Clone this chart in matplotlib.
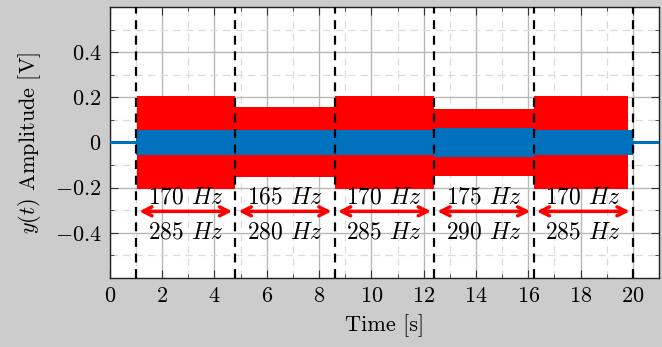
import matplotlib
matplotlib.use("Agg")
import matplotlib.pyplot as plt
from matplotlib.ticker import MultipleLocator
import numpy as np

plt.rcParams['font.family'] = 'serif'
plt.rcParams['font.serif'] = ['cmr10']
plt.rcParams['mathtext.fontset'] = 'cm'
plt.rcParams['axes.formatter.use_mathtext'] = True

# segment boundaries [s]
boundaries = [1.0, 4.8, 8.6, 12.4, 16.2, 20.0]
freq_low = [170, 165, 170, 175, 170]
freq_high = [285, 280, 285, 290, 285]
# envelope amplitudes of red (input) and blue (output) signals per segment
red_amp = [0.205, 0.155, 0.205, 0.148, 0.205]
blue_amp = [0.055, 0.057, 0.056, 0.064, 0.056]
blue_idle_amp = 0.007
red_start, red_end = 1.05, 19.8

fig = plt.figure(figsize=(6.62, 3.47), dpi=100)
fig.patch.set_facecolor('#cccccc')
ax = fig.add_axes([0.166, 0.199, 0.8295, 0.781])
ax.set_facecolor('white')

# red signal envelope
for i in range(5):
    x0 = max(boundaries[i], red_start)
    x1 = min(boundaries[i + 1], red_end)
    ax.fill_between([x0, x1], [-red_amp[i]] * 2, [red_amp[i]] * 2,
                    color='#ff0000', lw=0, zorder=2)
# blue signal envelope
ax.fill_between([0, boundaries[0]], [-blue_idle_amp] * 2, [blue_idle_amp] * 2,
                color='#0072BD', lw=0, zorder=3)
ax.fill_between([boundaries[-1], 21], [-blue_idle_amp] * 2, [blue_idle_amp] * 2,
                color='#0072BD', lw=0, zorder=3)
for i in range(5):
    ax.fill_between([boundaries[i], boundaries[i + 1]], [-blue_amp[i]] * 2,
                    [blue_amp[i]] * 2, color='#0072BD', lw=0, zorder=3)

# boundaries
for b in boundaries:
    ax.axvline(b, color='black', ls=(0, (4, 3)), lw=1.6, zorder=4)

# annotations
for i in range(5):
    c = 0.5 * (boundaries[i] + boundaries[i + 1])
    ax.text(c, -0.245, f'{freq_low[i]} $Hz$', ha='center', va='center',
            fontsize=17, zorder=5)
    ax.text(c, -0.40, f'{freq_high[i]} $Hz$', ha='center', va='center',
            fontsize=17, zorder=5)
    ax.annotate('', xy=(boundaries[i] + 0.12, -0.305),
                xytext=(boundaries[i + 1] - 0.12, -0.305),
                arrowprops=dict(arrowstyle='<->', color='#ff0000', lw=2.5,
                                mutation_scale=16, shrinkA=0, shrinkB=0),
                zorder=5)

ax.set_xlim(0, 21)
ax.set_ylim(-0.6, 0.6)
ax.xaxis.set_major_locator(MultipleLocator(2))
ax.xaxis.set_minor_locator(MultipleLocator(1))
ax.set_yticks([-0.4, -0.2, 0, 0.2, 0.4])
ax.set_yticklabels(['$-0.4$', '$-0.2$', '$0$', '$0.2$', '$0.4$'])
ax.yaxis.set_minor_locator(MultipleLocator(0.1))
ax.set_xticklabels([f'${int(v)}$' for v in ax.get_xticks()])
ax.grid(which='major', color='#b8b8b8', lw=1.0, zorder=1)
ax.grid(which='minor', color='#dcdcdc', lw=0.9, ls=(0, (6, 4)), zorder=1)
ax.set_axisbelow(True)
ax.tick_params(which='both', direction='in', top=True, right=True,
               labelsize=16, colors='#333333', labelcolor='black')
ax.tick_params(which='major', length=6, pad=6)
ax.tick_params(which='minor', length=3)
for s in ax.spines.values():
    s.set_linewidth(1.0)
    s.set_color('#222222')
ax.set_xlabel('Time [s]', fontsize=16, labelpad=6)
ax.set_ylabel('$y(t)$ Amplitude [V]', fontsize=16, labelpad=8)

fig.savefig('out.png', dpi=100, facecolor=fig.get_facecolor())
